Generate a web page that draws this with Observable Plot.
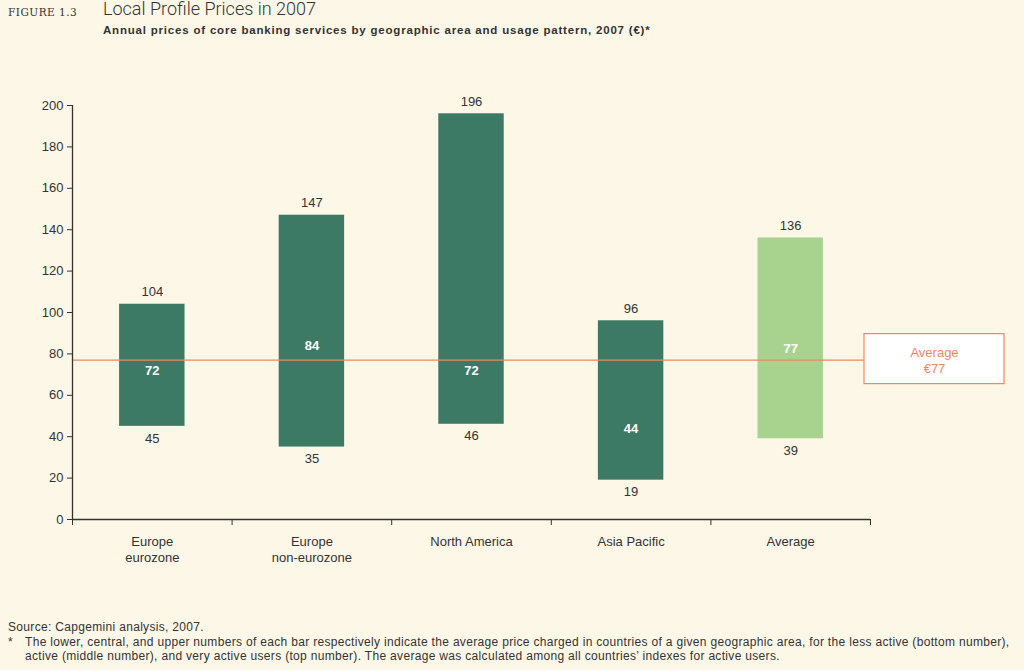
<!DOCTYPE html>
<html><head><meta charset="utf-8">
<script src="https://cdn.jsdelivr.net/npm/d3@7"></script>
<script src="https://cdn.jsdelivr.net/npm/@observablehq/plot@0.6"></script>
<style>
html,body{margin:0;padding:0;background:#fdf7e7;width:1024px;height:670px;overflow:hidden;font-family:"Liberation Sans",Arial,sans-serif;color:#333;}
#hdr{position:absolute;left:0;top:0;width:1024px;height:50px;}
#fig{position:absolute;left:8px;top:6px;font-family:"DejaVu Serif",serif;font-size:10.5px;letter-spacing:0.5px;color:#333;}
#title{position:absolute;left:103px;top:-2px;font-family:Roboto,sans-serif;font-weight:300;font-size:18px;color:#333;}
#sub{position:absolute;left:103px;top:24px;font-family:"Liberation Sans",sans-serif;font-weight:bold;font-size:11.5px;letter-spacing:0.8px;color:#333;}
#chart{position:absolute;left:0;top:50px;}
#foot{position:absolute;left:8px;top:620px;font-family:"Liberation Sans",sans-serif;font-size:12px;letter-spacing:0.32px;line-height:14.5px;color:#333;white-space:nowrap;}
#foot .n{position:relative;padding-left:17px;}
#foot .s{position:absolute;left:0;top:0;}
</style></head>
<body>
<div id="hdr"><div id="fig">FIGURE 1.3</div><div id="title">Local Profile Prices in 2007</div><div id="sub">Annual prices of core banking services by geographic area and usage pattern, 2007 (€)*</div></div>
<div id="chart"></div>
<div id="foot"><div>Source: Capgemini analysis, 2007.</div><div class="n"><span class="s">*</span>The lower, central, and upper numbers of each bar respectively indicate the average price charged in countries of a given geographic area, for the less active (bottom number),<br>active (middle number), and very active users (top number). The average was calculated among all countries’ indexes for active users.</div></div>
<script>
const categories = ["Europe\neurozone", "Europe\nnon-eurozone", "North America", "Asia Pacific", "Average"];
const lowValues = [45, 35, 46, 19, 39];
const midValues = [72, 84, 72, 44, 77];
const highValues = [104, 147, 196, 96, 136];
const averageValue = 77;
const yTicks = [0, 20, 40, 60, 80, 100, 120, 140, 160, 180, 200];

const data = categories.map((c, i) => ({name: c, i, low: lowValues[i], mid: midValues[i], high: highValues[i]}));
const regions = data.filter(d => d.name !== "Average");
const avgRow = data.filter(d => d.name === "Average");
const dark = "#3d7a66", light = "#a8d38f", orange = "#f0885e", ink = "#333";
const half = 0.205;

const chart = Plot.plot({
  width: 1024, height: 530,
  marginLeft: 72, marginRight: 154, marginTop: 55, marginBottom: 61,
  style: {background: "transparent", fontFamily: "'Liberation Sans', Arial, sans-serif", fontSize: "13px", color: ink, overflow: "visible"},
  x: {domain: [0, categories.length]},
  y: {domain: [0, 200]},
  marks: [
    Plot.rect(data, {x1: d => d.i + 0.5 - half, x2: d => d.i + 0.5 + half, y1: "low", y2: "high", fill: d => d.name === "Average" ? light : dark}),
    Plot.ruleY([averageValue], {stroke: orange, strokeWidth: 1.3}),
    Plot.rect([averageValue], {x1: categories.length, x2: categories.length, y1: d => d, y2: d => d, insetLeft: -6, insetRight: -134, insetTop: -26, insetBottom: -24, fill: "white", stroke: orange, strokeWidth: 1.2, clip: false}),
    Plot.text([averageValue], {x: categories.length, y: d => d, text: d => "Average\n€" + d, dx: 64, fill: orange, fontSize: 13, lineHeight: 1.2}),
    Plot.axisY({ticks: yTicks, tickSize: 5, tickPadding: 4, stroke: ink, fill: ink, fontSize: 13}),
    Plot.axisX({ticks: d3.range(0, categories.length + 1), tickSize: 6, tickFormat: () => "", stroke: ink}),
    Plot.ruleX([0], {y1: 0, y2: 200, stroke: ink, strokeWidth: 1.3}),
    Plot.ruleY([0], {stroke: ink, strokeWidth: 1.3}),
    Plot.text(data, {x: d => d.i + 0.5, y: 0, text: "name", lineAnchor: "top", dy: 14, fill: ink, fontSize: 13, lineHeight: 1.3}),
    Plot.text(data, {x: d => d.i + 0.5, y: "high", text: d => String(d.high), dy: -12, fill: ink, fontSize: 13}),
    Plot.text(data, {x: d => d.i + 0.5, y: "low", text: d => String(d.low), dy: 12, fill: ink, fontSize: 13}),
    Plot.text(regions, {x: d => d.i + 0.5, y: "mid", text: d => String(d.mid), fill: "white", fontWeight: "bold", fontSize: 13}),
    Plot.text(avgRow, {x: d => d.i + 0.5, y: "mid", text: d => String(d.mid), dy: -11, fill: "white", fontWeight: "bold", fontSize: 13})
  ]
});
document.getElementById("chart").appendChild(chart);
</script>
</body></html>
